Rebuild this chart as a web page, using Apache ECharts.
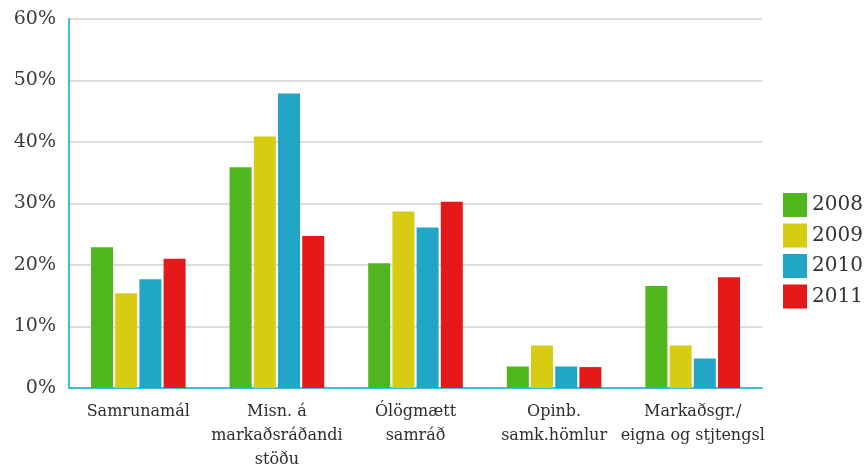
<!DOCTYPE html>
<html>
<head>
<meta charset="utf-8">
<script src="https://cdn.jsdelivr.net/npm/echarts@6/dist/echarts.min.js"></script>
<style>html,body{margin:0;padding:0;background:#fff;}#c{width:867px;height:472px;}</style>
</head>
<body>
<div id="c"></div>
<script>
const categories = ["Samrunamál", "Misn. á\nmarkaðsráðandi\nstöðu", "Ólögmætt\nsamráð", "Opinb.\nsamk.hömlur", "Markaðsgr./\neigna og stjtengsl"];
const years = ["2008", "2009", "2010", "2011"];
const v2008 = [22.9, 35.9, 20.3, 3.5, 16.6];
const v2009 = [15.4, 40.9, 28.7, 6.9, 6.9];
const v2010 = [17.7, 47.9, 26.1, 3.5, 4.8];
const v2011 = [21.0, 24.7, 30.3, 3.4, 18.0];
const yTicks = [0, 10, 20, 30, 40, 50, 60];
const colors = ["#4fb61e", "#d8cc12", "#22a6c6", "#e51919"];
const seriesData = [v2008, v2009, v2010, v2011];

const chart = echarts.init(document.getElementById('c'));
const font = "DejaVu Serif";
chart.setOption({
  animation: false,
  backgroundColor: '#fff',
  grid: { left: 69, right: 105, top: 19, bottom: 81, containLabel: false },
  legend: {
    orient: 'vertical', left: 778, top: 188,
    itemWidth: 24, itemHeight: 24, itemGap: 6.5,
    icon: 'rect',
    textStyle: { fontFamily: font, fontSize: 20, color: '#333' },
    data: years
  },
  xAxis: {
    type: 'category', data: categories,
    axisLine: { show: true, lineStyle: { color: '#3cbfd8', width: 2 } },
    axisTick: { show: false },
    axisLabel: { fontFamily: font, fontSize: 16, color: '#2e2e2e', lineHeight: 24, margin: 12, interval: 0 }
  },
  yAxis: {
    type: 'value', min: yTicks[0], max: yTicks[yTicks.length - 1], interval: 10,
    axisLine: { show: true, lineStyle: { color: '#3cbfd8', width: 2 } },
    axisTick: { show: false },
    splitLine: { lineStyle: { color: '#dcdcdc', width: 2 } },
    axisLabel: { fontFamily: font, fontSize: 19, color: '#3a3a3a', margin: 13, formatter: '{value}%' }
  },
  series: years.map((y, i) => ({
    name: y, type: 'bar', data: seriesData[i],
    barWidth: 22, barGap: '10%',
    itemStyle: { color: colors[i] }
  }))
});
</script>
</body>
</html>
